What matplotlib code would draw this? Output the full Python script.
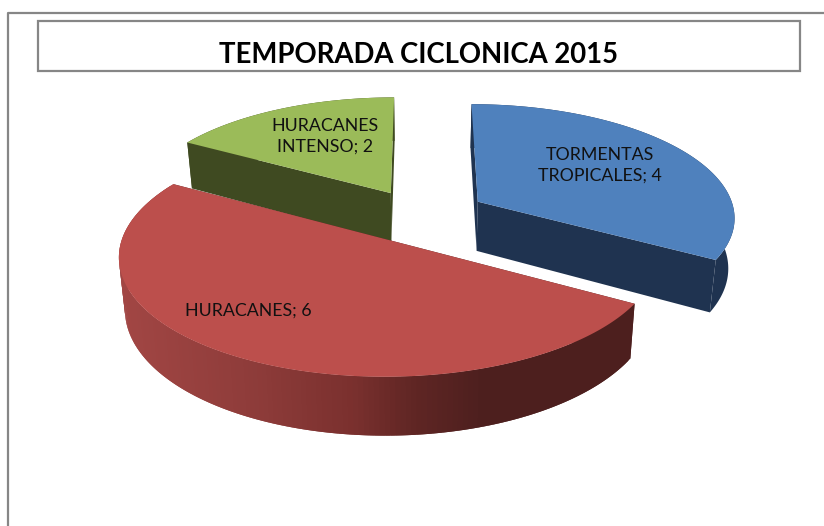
import numpy as np
import matplotlib.pyplot as plt
from matplotlib.colors import to_rgb
from matplotlib.patches import Polygon, Rectangle

plt.rcParams['font.family'] = ['Lato', 'DejaVu Sans']

# chart data
categories = ['TORMENTAS\nTROPICALES', 'HURACANES', 'HURACANES\nINTENSO']
values = [4, 6, 2]
top_colors = ['#4f81bd', '#bc4f4c', '#9bbb59']
wall_colors = ['#1f3350', '#4d1f1e', '#3f4a21']
label_pos = [(600, 165), (248, 311), (325, 136)]
explode = [0.258, 0.24, 0.24]
radius = [1.0, 1.01, 1.0]
title = 'TEMPORADA CICLONICA 2015'

# 3d pie geometry, in pixels of the picture
CX, CY = 421, 216
SX, SY = 258, 113
PERSP = 0.125
DEPTH = 50
TAPER = 0.98

# shading along the front of the red slice
shade_x = [118, 250, 350, 410, 480, 640]
shade_colors = ['#a24644', '#8e3c3a', '#7a302e', '#602624', '#4d1f1e', '#4d1f1e']


def project(x, y):
    f = 1 / (1 + PERSP * y)
    return np.array([CX + x * SX * f, CY - y * SY * f])


def drop(x, y):
    # same point on the lower face of the pie
    f = 1 / (1 + PERSP * y)
    px, py = project(x, y)
    return np.array([CX + (px - CX) * TAPER, py + DEPTH * f])


def shade(px):
    rgb = np.array([to_rgb(c) for c in shade_colors])
    return [np.interp(px, shade_x, rgb[:, i]) for i in range(3)]


fig = plt.figure(figsize=(8.24, 5.26), dpi=100)
ax = fig.add_axes([0, 0, 1, 1])
ax.set_xlim(0, 824)
ax.set_ylim(526, 0)
ax.axis('off')

# outer chart frame, cut by the picture edge on the right and at the bottom
ax.plot([8, 8, 824], [526, 13, 13], color='#868686', lw=1.6)
ax.add_patch(Rectangle((38, 21), 762, 50, fc='white', ec='#868686', lw=1.6))
ax.text(419, 55, title, fontsize=19.8, fontweight='bold', ha='center', va='center', color='black')

edges = np.cumsum([0] + values) / sum(values) * 2 * np.pi

# back to front: green, blue, red
for i in [2, 0, 1]:
    a0, a1 = edges[i], edges[i + 1]
    mid = (a0 + a1) / 2
    ox, oy = explode[i] * np.sin(mid), explode[i] * np.cos(mid)
    theta = np.linspace(a0, a1, 181)
    rx = ox + radius[i] * np.sin(theta)
    ry = oy + np.cos(theta)
    rim_top = np.array([project(a, b) for a, b in zip(rx, ry)])
    rim_low = np.array([drop(a, b) for a, b in zip(rx, ry)])
    apex_top = project(ox, oy)
    apex_low = drop(ox, oy)

    # the two cut faces
    for k in [0, -1]:
        ax.add_patch(Polygon([apex_top, rim_top[k], rim_low[k], apex_low],
                             fc=wall_colors[i], ec='none'))

    # outer wall, the red one in overlapping strips to carry its shading
    if i == 1:
        for k in range(len(theta) - 2):
            col = shade(rim_top[k + 1, 0])
            ax.add_patch(Polygon([rim_top[k], rim_top[k + 2], rim_low[k + 2], rim_low[k]],
                                 fc=col, ec='none'))
    else:
        ax.add_patch(Polygon(np.vstack([rim_top, rim_low[::-1]]), fc=wall_colors[i], ec='none'))

    ax.add_patch(Polygon(np.vstack([apex_top, rim_top]), fc=top_colors[i], ec='none'))

for name, val, pos in zip(categories, values, label_pos):
    ax.text(pos[0], pos[1], f'{name}; {val}', fontsize=12.8, ha='center', va='center',
            color='#111111', linespacing=1.35)

fig.savefig('out.png', dpi=100)
